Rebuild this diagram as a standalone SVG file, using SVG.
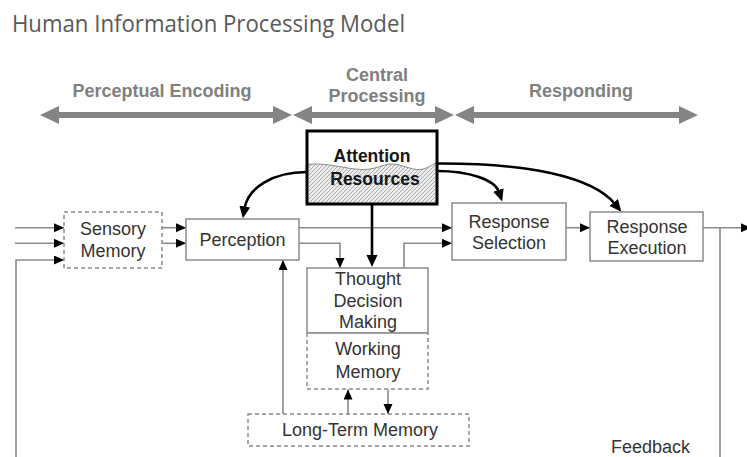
<svg xmlns="http://www.w3.org/2000/svg" width="747" height="457" viewBox="0 0 747 457">
<style>
.title{font-family:"Open Sans","Noto Sans",sans-serif;font-size:23.5px;fill:#595959}
.phase{font-family:"Liberation Sans",Arial,sans-serif;font-size:18px;font-weight:bold;fill:#808080;text-anchor:middle}
.lbl{font-family:"Liberation Sans",Arial,sans-serif;font-size:18px;fill:#333;text-anchor:middle}
.att{font-family:"Liberation Sans",Arial,sans-serif;font-size:17.5px;font-weight:bold;fill:#151515;text-anchor:middle}
.box{fill:#fff;stroke:#8a8a8a;stroke-width:1.5}
.dash{fill:#fff;stroke:#8a8a8a;stroke-width:1.5;stroke-dasharray:4 3}
.ln{fill:none;stroke:#8a8a8a;stroke-width:1.6}
.thk{fill:none;stroke:#000;stroke-width:2.6}
.parr{fill:#848484}
</style>
<defs>
<marker id="ah" markerUnits="userSpaceOnUse" markerWidth="11" markerHeight="10" refX="10" refY="4.5" orient="auto">
<path d="M0,0 L10,4.5 L0,9 z" fill="#000"/>
</marker>
<marker id="ahb" markerUnits="userSpaceOnUse" markerWidth="13" markerHeight="12" refX="2" refY="5.5" orient="auto">
<path d="M0,0 L12,5.5 L0,11 z" fill="#000"/>
</marker>
<pattern id="hatch" patternUnits="userSpaceOnUse" width="4" height="4">
<rect width="4" height="4" fill="#ececec"/>
<path d="M-1,1 l2,-2 M0,4 l4,-4 M3,5 l2,-2" stroke="#9a9a9a" stroke-width="0.8"/>
</pattern>
</defs>
<rect width="747" height="457" fill="#fff"/>
<text class="title" x="12" y="32" textLength="393" lengthAdjust="spacingAndGlyphs">Human Information Processing Model</text>

<g id="phases">
<polygon class="parr" points="40,115 59,106 59,112 273,112 273,106 292,115 273,124 273,118 59,118 59,124"/>
<polygon class="parr" points="293,115 312,106 312,112 435,112 435,106 454,115 435,124 435,118 312,118 312,124"/>
<polygon class="parr" points="455,115 474,106 474,112 679,112 679,106 698,115 679,124 679,118 474,118 474,124"/>
<text class="phase" x="162" y="97">Perceptual Encoding</text>
<text class="phase" x="377" y="81">Central</text>
<text class="phase" x="377" y="102">Processing</text>
<text class="phase" x="581" y="97">Responding</text>
</g>

<g id="connectors">
<path class="ln" d="M15,227.7 H64" marker-end="url(#ah)"/>
<path class="ln" d="M15,243.3 H64" marker-end="url(#ah)"/>
<path class="ln" d="M16,457 V260 H64" marker-end="url(#ah)"/>
<path class="ln" d="M162,227.7 H186" marker-end="url(#ah)"/>
<path class="ln" d="M162,243.3 H186" marker-end="url(#ah)"/>
<path class="ln" d="M299,227.7 H452" marker-end="url(#ah)"/>
<path class="ln" d="M299,243.3 H340 V268" marker-end="url(#ah)"/>
<path class="ln" d="M404,268 V243.3 H452" marker-end="url(#ah)"/>
<path class="ln" d="M566,227.7 H590" marker-end="url(#ah)"/>
<path class="ln" d="M703,227.7 H751" marker-end="url(#ah)"/>
<path class="ln" d="M720,227.7 V457"/>
<path class="ln" d="M283,414 V260" marker-end="url(#ah)"/>
<path class="ln" d="M348,414 V389.5" marker-end="url(#ah)"/>
<path class="ln" d="M388,389.5 V414" marker-end="url(#ah)"/>
<path class="thk" d="M307,172 C272,172 248,188 244.5,208.5" marker-end="url(#ahb)"/>
<path class="thk" d="M437,171 C470,171 495,180 499,192" marker-end="url(#ahb)"/>
<path class="thk" d="M437,163.5 C525,163 592,176 615,204" marker-end="url(#ahb)"/>
<path class="thk" d="M372,204 V257" stroke-width="3" marker-end="url(#ahb)"/>
</g>

<g id="attention">
<rect x="307" y="131" width="130" height="73" fill="#fff"/>
<path d="M307,164.5 C325,162 345,169 362,169.5 C375,170 383,164 392,164 C402,164 410,170 420,169.5 C428,169 432,164 437,162.5 L437,204 L307,204 Z" fill="url(#hatch)" stroke="#8a8a8a" stroke-width="1"/>
<rect x="307" y="131" width="130" height="73" fill="none" stroke="#000" stroke-width="3"/>
<text class="att" x="372" y="161.5">Attention</text>
<text class="att" x="375" y="185">Resources</text>
</g>

<g id="sensory-memory">
<rect class="dash" x="64" y="212" width="98" height="56"/>
<text class="lbl" x="113" y="235">Sensory</text>
<text class="lbl" x="113" y="256.5">Memory</text>
</g>

<g id="perception">
<rect class="box" x="186" y="219" width="113" height="41"/>
<text class="lbl" x="242.5" y="246">Perception</text>
</g>

<g id="response-selection">
<rect class="box" x="452" y="203" width="114" height="57"/>
<text class="lbl" x="509" y="228">Response</text>
<text class="lbl" x="509" y="249.3">Selection</text>
</g>

<g id="response-execution">
<rect class="box" x="590" y="212" width="113" height="49"/>
<text class="lbl" x="647" y="232.5">Response</text>
<text class="lbl" x="647" y="254">Execution</text>
</g>

<g id="thought">
<rect class="box" x="307" y="268" width="121" height="65"/>
<text class="lbl" x="368" y="285">Thought</text>
<text class="lbl" x="368" y="307">Decision</text>
<text class="lbl" x="368" y="328">Making</text>
</g>

<g id="working-memory">
<path d="M307,333 V389 H428 V333" fill="#fff" stroke="#8a8a8a" stroke-width="1.5" stroke-dasharray="4 3"/>
<line x1="307" y1="333" x2="428" y2="333" stroke="#8a8a8a" stroke-width="1.5"/>
<text class="lbl" x="368" y="355">Working</text>
<text class="lbl" x="368" y="378">Memory</text>
</g>

<g id="long-term-memory">
<rect class="dash" x="248" y="414" width="221" height="32"/>
<text class="lbl" x="360" y="436">Long-Term Memory</text>
</g>

<g id="feedback-label">
<text class="lbl" x="611" y="453" style="text-anchor:start">Feedback</text>
</g>
</svg>
